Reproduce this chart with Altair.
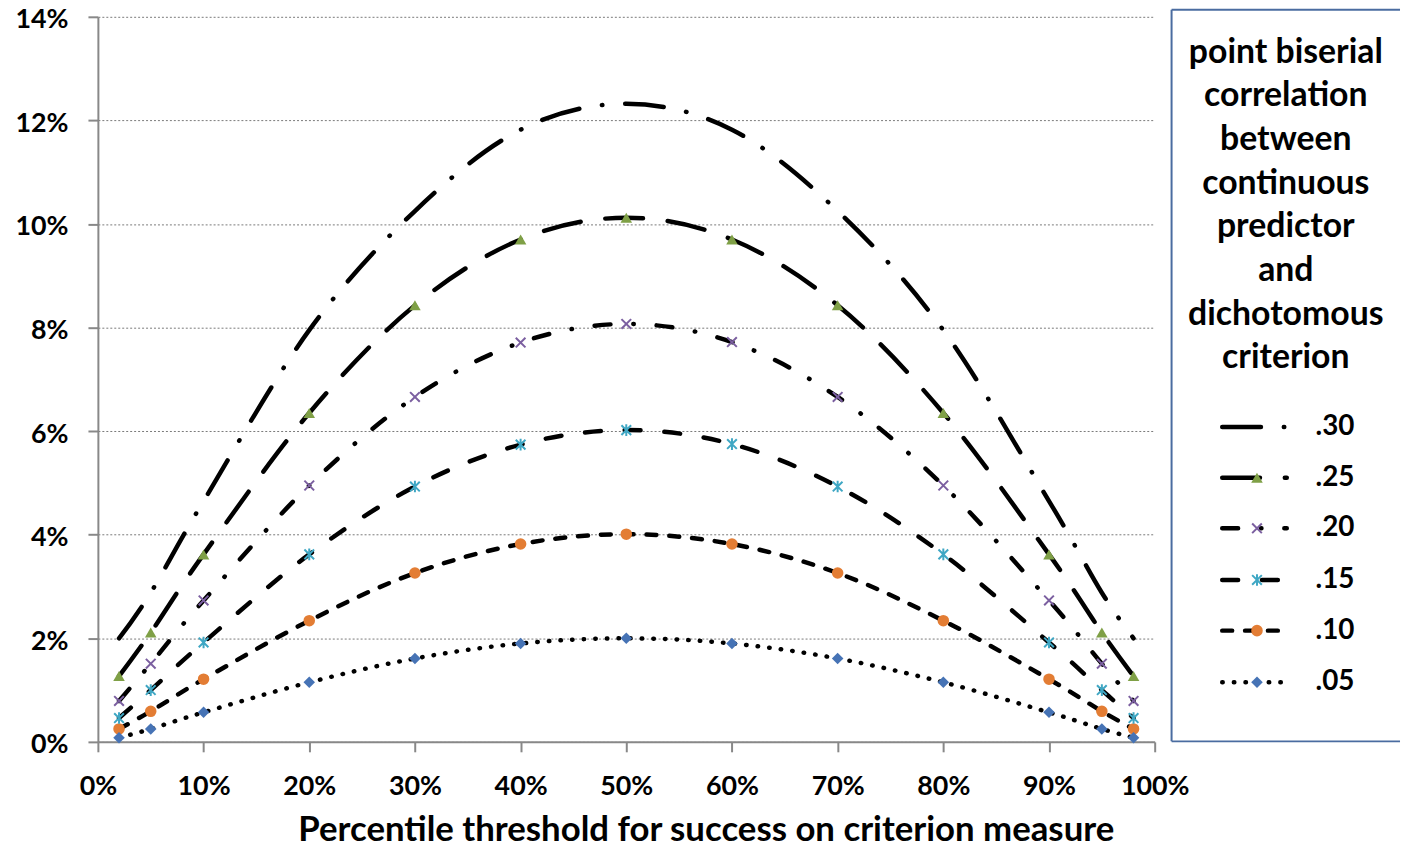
import altair as alt
import pandas as pd

# ---------------- data (values in percent) ----------------
thresholds = [0.02, 0.05, 0.10, 0.20, 0.30, 0.40, 0.50, 0.60, 0.70, 0.80, 0.90, 0.95, 0.98]
series_names = [".30", ".25", ".20", ".15", ".10", ".05"]
r30 = [2.00, 2.88, 4.65, 7.95, 10.25, 11.82, 12.32, 11.82, 10.25, 7.95, 4.65, 2.88, 2.00]
r25 = [1.27, 2.11, 3.62, 6.35, 8.43, 9.70, 10.12, 9.70, 8.43, 6.35, 3.62, 2.11, 1.27]
r20 = [0.79, 1.51, 2.73, 4.95, 6.66, 7.71, 8.07, 7.72, 6.66, 4.95, 2.73, 1.51, 0.79]
r15 = [0.46, 1.00, 1.92, 3.62, 4.93, 5.74, 6.02, 5.75, 4.93, 3.62, 1.92, 1.00, 0.46]
r10 = [0.25, 0.59, 1.21, 2.34, 3.26, 3.82, 4.01, 3.82, 3.26, 2.34, 1.21, 0.59, 0.25]
r05 = [0.08, 0.25, 0.57, 1.15, 1.61, 1.90, 2.00, 1.90, 1.61, 1.15, 0.57, 0.25, 0.08]
series_values = [r30, r25, r20, r15, r10, r05]

x_ticks = [0, 0.1, 0.2, 0.3, 0.4, 0.5, 0.6, 0.7, 0.8, 0.9, 1.0]
y_ticks = [0, 0.02, 0.04, 0.06, 0.08, 0.10, 0.12, 0.14]
x_title = "Percentile threshold for success on criterion measure"
legend_title_lines = ["point biserial", "correlation", "between", "continuous",
                      "predictor", "and", "dichotomous", "criterion"]

# ---------------- styles ----------------
FONT = "Lato"
dash_range = [[39, 23, 0.5, 23], [38, 25], [16, 23, 0.5, 23], [16, 24], [10, 13], [0.5, 11.2]]
filled_series = [".25", ".10", ".05"]
filled_shapes = ["triangle-up", "circle", "diamond"]
filled_colors = ["#7FA046", "#E37D34", "#4673B5"]
stroked_series = [".20", ".15"]
stroked_shapes = ["M-1,-1L1,1M-1,1L1,-1", "M-1,-1L1,1M-1,1L1,-1M0,-1.2L0,1.2"]
stroked_colors = ["#7B5FA0", "#3FA7C4"]

rows = []
for name, vals in zip(series_names, series_values):
    for t, v in zip(thresholds, vals):
        rows.append({"series": name, "threshold": t, "value": v / 100.0})
df = pd.DataFrame(rows)

W, H = 1064, 730

x_enc = alt.X("threshold:Q", scale=alt.Scale(domain=[0, 1], nice=False),
              axis=alt.Axis(values=x_ticks, format=".0%", title=x_title, grid=False,
                            labelFlush=False, labelPadding=22, titlePadding=13,
                            titleX=612, titleAlign="center"))
y_enc = alt.Y("value:Q", scale=alt.Scale(domain=[0, 0.14], nice=False),
              axis=alt.Axis(values=y_ticks, format=".0%", title=None, grid=True,
                            labelFlush=False, labelPadding=20, labelOffset=3))
dash_enc = alt.StrokeDash("series:N", scale=alt.Scale(domain=series_names, range=dash_range),
                          legend=None)
fshape = alt.Shape("series:N", scale=alt.Scale(domain=filled_series, range=filled_shapes), legend=None)
fcolor = alt.Color("series:N", scale=alt.Scale(domain=filled_series, range=filled_colors), legend=None)
sshape = alt.Shape("series:N", scale=alt.Scale(domain=stroked_series, range=stroked_shapes), legend=None)
scolor = alt.Color("series:N", scale=alt.Scale(domain=stroked_series, range=stroked_colors), legend=None)

lines = alt.Chart(df).mark_line(
    interpolate="cardinal", strokeCap="round", strokeWidth=4.5, color="black"
).encode(x=x_enc, y=y_enc, strokeDash=dash_enc, detail="series:N")

pts_filled = alt.Chart(df).transform_filter(
    alt.FieldOneOfPredicate(field="series", oneOf=filled_series)
).mark_point(filled=True, size=135, opacity=1).encode(x=x_enc, y=y_enc, shape=fshape, color=fcolor)

pts_stroked = alt.Chart(df).transform_filter(
    alt.FieldOneOfPredicate(field="series", oneOf=stroked_series)
).mark_point(filled=False, size=95, strokeWidth=2, opacity=1).encode(x=x_enc, y=y_enc, shape=sshape, color=scolor)

main = alt.layer(lines, pts_filled, pts_stroked).resolve_scale(
    shape="independent", color="independent"
).properties(width=W, height=H)

# ---------------- legend panel ----------------
LW = 222
lxe = lambda f: alt.X(f, scale=alt.Scale(domain=[0, LW], nice=False), axis=None)
lye = lambda f: alt.Y(f, scale=alt.Scale(domain=[0, H], reverse=True, nice=False), axis=None)

hbox_df = pd.DataFrame({"x": [0, 0], "x2": [230, 230], "y": [-7, 729.5]})
vbox_df = pd.DataFrame({"x": [0], "y": [-7], "y2": [729.5]})
hbox = alt.Chart(hbox_df).mark_rule(color="#4A6CA0", strokeWidth=2).encode(
    x=lxe("x:Q"), x2="x2:Q", y=lye("y:Q"),
)
vbox = alt.Chart(vbox_df).mark_rule(color="#4A6CA0", strokeWidth=2).encode(
    x=lxe("x:Q"), y=lye("y:Q"), y2="y2:Q",
)

title_df = pd.DataFrame({"line": legend_title_lines,
                         "y": [36 + 44 * i for i in range(len(legend_title_lines))],
                         "x": [115] * len(legend_title_lines)})
ltitle = alt.Chart(title_df).mark_text(
    font=FONT, fontSize=34, fontWeight="bold", color="black", align="center", baseline="middle"
).encode(x=lxe("x:Q"), y=lye("y:Q"), text="line:N")

row_y = [413, 464, 515, 567, 618, 670]
samp = []
for name, yy in zip(series_names, row_y):
    samp.append({"series": name, "x": 51, "y": yy})
    samp.append({"series": name, "x": 116, "y": yy})
samp_df = pd.DataFrame(samp)
lsample = alt.Chart(samp_df).mark_line(strokeCap="round", strokeWidth=4.5, color="black").encode(
    x=lxe("x:Q"), y=lye("y:Q"), strokeDash=dash_enc, detail="series:N",
)

mk_df = pd.DataFrame({"series": series_names, "y": row_y, "x": [86] * 6, "lx": [145] * 6})
lmk_f = alt.Chart(mk_df).transform_filter(
    alt.FieldOneOfPredicate(field="series", oneOf=filled_series)
).mark_point(filled=True, size=135, opacity=1).encode(x=lxe("x:Q"), y=lye("y:Q"), shape=fshape, color=fcolor)
lmk_s = alt.Chart(mk_df).transform_filter(
    alt.FieldOneOfPredicate(field="series", oneOf=stroked_series)
).mark_point(filled=False, size=95, strokeWidth=2, opacity=1).encode(x=lxe("x:Q"), y=lye("y:Q"), shape=sshape, color=scolor)
llabels = alt.Chart(mk_df).mark_text(
    font=FONT, fontSize=28, fontWeight="bold", color="black", align="left", baseline="middle"
).encode(x=lxe("lx:Q"), y=lye("y:Q"), text="series:N")

legend = alt.layer(hbox, vbox, ltitle, lsample, lmk_f, lmk_s, llabels).resolve_scale(
    shape="independent", color="independent"
).properties(width=LW, height=H)

chart = alt.hconcat(main, legend, spacing=17, bounds="flush").resolve_scale(
    x="independent", y="independent", shape="independent", color="independent"
).properties(
    padding={"left": 6.5, "top": -6, "right": 0, "bottom": 0}, background="white"
).configure_view(stroke="transparent").configure_axis(
    labelFont=FONT, labelFontSize=27, labelFontWeight="bold", labelColor="black",
    titleFont=FONT, titleFontSize=35, titleFontWeight="bold", titleColor="black",
    domainColor="#888888", domainWidth=2, tickColor="#888888", tickWidth=2, tickSize=10,
    gridColor="#7A7A7A", gridDash=[2, 2], gridWidth=1,
)

chart.save("out.html", embed_options={"renderer": "svg", "actions": False})
